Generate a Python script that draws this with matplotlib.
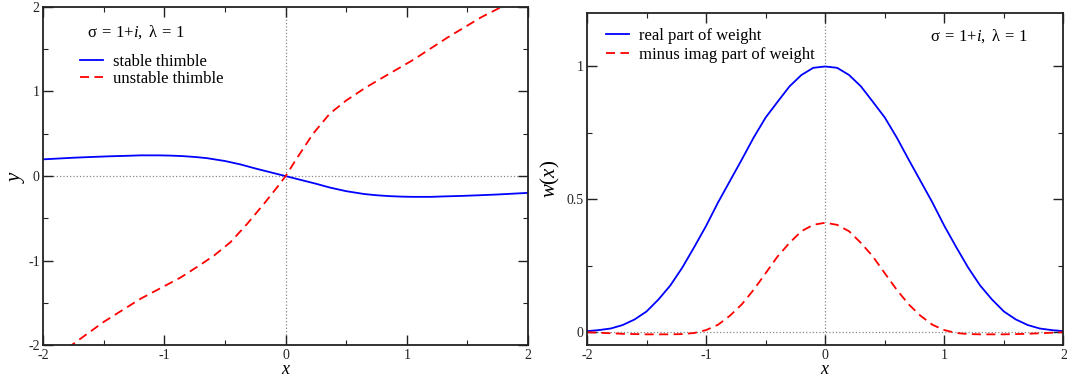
import numpy as np
import matplotlib
matplotlib.use('Agg')
import matplotlib.pyplot as plt
from matplotlib.ticker import MultipleLocator

plt.rcParams['font.family'] = ['Liberation Serif', 'DejaVu Serif']
plt.rcParams['mathtext.fontset'] = 'custom'
plt.rcParams['mathtext.rm'] = 'Liberation Serif'
plt.rcParams['mathtext.it'] = 'Liberation Serif:italic'
plt.rcParams['axes.unicode_minus'] = False

# left panel: stable thimble (odd, read at x >= 0)
x_stable = [0.0, 0.125, 0.25, 0.37, 0.5, 0.65, 0.75, 0.85, 0.95, 1.05, 1.2, 1.3, 1.45, 1.6, 1.75, 2.0]
y_stable = [0.0, -0.045, -0.09, -0.137, -0.178, -0.212, -0.226, -0.236, -0.242, -0.245, -0.245, -0.24, -0.234, -0.226, -0.217, -0.198]

# left panel: unstable thimble
x_unstable = [-1.80, -1.50, -1.20, -0.87, -0.70, -0.59, -0.455, -0.317, -0.179, -0.069, 0.0,
              0.088, 0.226, 0.364, 0.502, 0.668, 0.833, 1.05, 1.34, 1.62, 1.785, 1.85]
y_unstable = [-2.03, -1.72, -1.45, -1.20, -1.044, -0.937, -0.78, -0.563, -0.327, -0.13, 0.0,
              0.20, 0.50, 0.737, 0.895, 1.052, 1.19, 1.37, 1.64, 1.88, 2.0, 2.05]

# right panel: weights (even, read at x >= 0)
x_weight = [0.0, 0.1, 0.2, 0.3, 0.4, 0.5, 0.6, 0.7, 0.8, 0.9, 1.0, 1.1, 1.2, 1.3, 1.4, 1.5, 1.6, 1.7, 1.8, 1.9, 2.0]
w_real = [1.0, 0.995, 0.968, 0.925, 0.867, 0.808, 0.733, 0.65, 0.569, 0.488, 0.40, 0.32, 0.243, 0.176,
          0.123, 0.078, 0.048, 0.027, 0.014, 0.008, 0.004]
w_imag = [0.412, 0.404, 0.38, 0.336, 0.285, 0.222, 0.16, 0.105, 0.062, 0.028, 0.008, -0.003, -0.007,
          -0.008, -0.008, -0.008, -0.007, -0.006, -0.004, -0.002, 0.0]

def mirror_odd(xs, ys):
    xs = np.array(xs); ys = np.array(ys)
    return np.concatenate([-xs[::-1], xs[1:]]), np.concatenate([-ys[::-1], ys[1:]])

def mirror_even(xs, ys):
    xs = np.array(xs); ys = np.array(ys)
    return np.concatenate([-xs[::-1], xs[1:]]), np.concatenate([ys[::-1], ys[1:]])

sigma_label = r'$\mathrm{σ}\:{=}\:1{+}i,\ \mathrm{λ}\:{=}\:1$'

def style_axes(ax):
    for s in ax.spines.values():
        s.set_linewidth(1.3)
        s.set_color('#222222')
    ax.tick_params(which='both', direction='in', top=True, right=True, labelsize=10, pad=2.5, colors='#222222')
    ax.tick_params(which='major', length=7, width=1.0)
    ax.tick_params(which='minor', length=3.5, width=0.8)
    ax.xaxis.set_major_locator(MultipleLocator(1))
    ax.xaxis.set_minor_locator(MultipleLocator(0.5))
    ax.set_xlim(-2, 2)
    ax.axhline(0, color='#888888', ls=':', lw=0.9, zorder=0)
    ax.axvline(0, color='#888888', ls=':', lw=0.9, zorder=0)
    ax.set_xlabel('$x$', fontsize=13, labelpad=-1)

fig = plt.figure(figsize=(10.67, 3.79), dpi=100)
ax1 = fig.add_axes([0.0406, 0.0884, 0.4542, 0.8939])
ax2 = fig.add_axes([0.5501, 0.0884, 0.4466, 0.8764])

xs, ys = mirror_odd(x_stable, y_stable)
ax1.plot(xs, ys, color='blue', lw=1.3, label='stable thimble')
ax1.plot(x_unstable, y_unstable, color='red', lw=1.3, ls=(0, (5, 3)), label='unstable thimble')
style_axes(ax1)
ax1.set_ylim(-2, 2)
ax1.yaxis.set_major_locator(MultipleLocator(1))
ax1.yaxis.set_minor_locator(MultipleLocator(0.5))
ax1.set_ylabel('$y$', fontsize=15, labelpad=1)
ax1.text(0.09, 0.925, sigma_label, transform=ax1.transAxes, fontsize=12, va='center')
ax1.legend(loc='upper left', bbox_to_anchor=(0.075, 0.86), frameon=False, fontsize=12,
           handlelength=1.4, handletextpad=0.6, labelspacing=0.05, borderpad=0, borderaxespad=0)

xw, yw = mirror_even(x_weight, w_real)
ax2.plot(xw, yw, color='blue', lw=1.3, label='real part of weight')
xi, yi = mirror_even(x_weight, w_imag)
ax2.plot(xi, yi, color='red', lw=1.3, ls=(0, (5, 3)), label='minus imag part of weight')
style_axes(ax2)
ax2.set_ylim(-0.05, 1.2)
ax2.yaxis.set_major_locator(MultipleLocator(0.5))
ax2.yaxis.set_minor_locator(MultipleLocator(0.25))
ax2.yaxis.set_major_formatter(plt.FuncFormatter(lambda v, p: f'{v:g}'))
ax2.set_ylabel('$w(x)$', fontsize=15, labelpad=3)
ax2.text(0.72, 0.93, sigma_label, transform=ax2.transAxes, fontsize=12, va='center')
ax2.legend(loc='upper left', bbox_to_anchor=(0.04, 0.955), frameon=False, fontsize=12,
           handlelength=1.4, handletextpad=0.6, labelspacing=0.15, borderpad=0, borderaxespad=0)

fig.savefig('out.png', dpi=100)
